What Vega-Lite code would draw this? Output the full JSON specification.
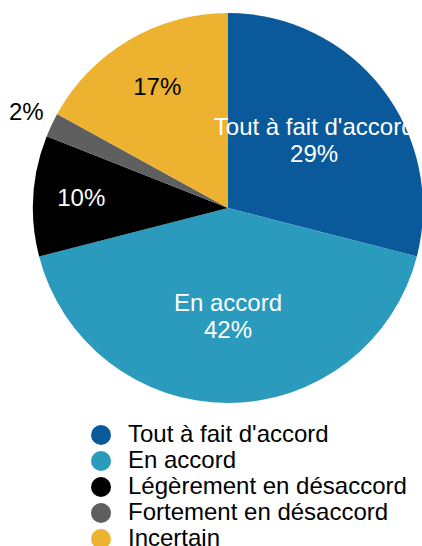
{
  "$schema": "https://vega.github.io/schema/vega-lite/v6.json",
  "width": 456,
  "height": 416,
  "autosize": {"type": "none"},
  "padding": {"left": 0, "top": 0, "right": -34, "bottom": 130},
  "config": {"view": {"stroke": null}, "font": "Liberation Sans"},
  "data": {
    "values": [
      {"categorie": "Tout à fait d'accord", "pct": 29, "ord": 1, "label": "Tout à fait d'accord\n29%"},
      {"categorie": "En accord", "pct": 42, "ord": 2, "label": "En accord\n42%"},
      {"categorie": "Légèrement en désaccord", "pct": 10, "ord": 3, "label": "10%"},
      {"categorie": "Fortement en désaccord", "pct": 2, "ord": 4, "label": "2%"},
      {"categorie": "Incertain", "pct": 17, "ord": 5, "label": "17%"}
    ]
  },
  "encoding": {
    "theta": {"field": "pct", "type": "quantitative", "stack": true},
    "order": {"field": "ord", "type": "quantitative"}
  },
  "layer": [
    {
      "mark": {"type": "arc", "radius": 195},
      "encoding": {
        "color": {
          "field": "categorie",
          "type": "nominal",
          "scale": {
            "domain": ["Tout à fait d'accord", "En accord", "Légèrement en désaccord", "Fortement en désaccord", "Incertain"],
            "range": ["#0a5a9b", "#2a9bbd", "#000000", "#5f5f5f", "#edb230"]
          },
          "legend": {
            "orient": "none",
            "legendX": 89,
            "legendY": 423,
            "title": null,
            "symbolType": "circle",
            "symbolSize": 400,
            "symbolStrokeWidth": 0,
            "symbolOpacity": 1,
            "labelFontSize": 24,
            "labelColor": "#000000",
            "labelOffset": 15,
            "labelLimit": 400,
            "rowPadding": 2,
            "padding": 0
          }
        }
      }
    },
    {
      "mark": {"type": "text", "radius": 109, "dy": -13.5, "fontSize": 24, "color": "#ffffff", "lineBreak": "\n", "lineHeight": 27},
      "encoding": {
        "text": {"condition": {"test": "datum.ord <= 2", "field": "label"}, "value": ""}
      }
    },
    {
      "mark": {"type": "text", "radius": 147, "fontSize": 24, "color": "#ffffff"},
      "encoding": {
        "text": {"condition": {"test": "datum.ord == 3", "field": "label"}, "value": ""}
      }
    },
    {
      "mark": {"type": "text", "radius": 139, "fontSize": 24, "color": "#000000"},
      "encoding": {
        "text": {"condition": {"test": "datum.ord == 5", "field": "label"}, "value": ""}
      }
    },
    {
      "mark": {"type": "text", "radius": 223, "fontSize": 24, "color": "#000000"},
      "encoding": {
        "text": {"condition": {"test": "datum.ord == 4", "field": "label"}, "value": ""}
      }
    }
  ]
}
